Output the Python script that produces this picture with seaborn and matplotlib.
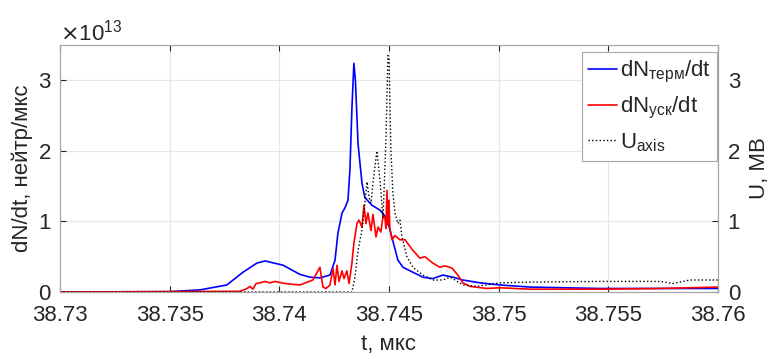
import numpy as np
import pandas as pd
import matplotlib
matplotlib.use('Agg')
import matplotlib.pyplot as plt
import matplotlib.ticker as mticker
import seaborn as sns

# time, мкс and values (dN/dt in units of 1e13, U in MV)
t_term = [38.730, 38.73502, 38.73638, 38.73761, 38.73834, 38.73898, 38.73935, 38.74017,
          38.74094, 38.7414, 38.74185, 38.74231, 38.74254, 38.74267, 38.74286, 38.74299,
          38.74313, 38.74322, 38.74331, 38.7434, 38.74347, 38.74359, 38.74377, 38.7439,
          38.74422, 38.74459, 38.74491, 38.74518, 38.74541, 38.74564, 38.74609, 38.74655,
          38.747, 38.74746, 38.74792, 38.74837, 38.74915, 38.75006, 38.75143, 38.75462, 38.760]
dn_term = [0, 0.005, 0.03, 0.1, 0.28, 0.41, 0.44, 0.38,
           0.25, 0.21, 0.2, 0.24, 0.45, 0.83, 1.12, 1.19,
           1.3, 1.73, 2.6, 3.24, 3.0, 2.1, 1.54, 1.34,
           1.23, 1.16, 1.04, 0.72, 0.45, 0.35, 0.28, 0.21,
           0.19, 0.24, 0.21, 0.17, 0.13, 0.1, 0.07, 0.05, 0.05]

t_acc = [38.730, 38.73821, 38.73853, 38.73866, 38.7388, 38.73894, 38.73912, 38.73935,
         38.73957, 38.7398, 38.74026, 38.74094, 38.74153, 38.74185, 38.74199, 38.74213,
         38.74231, 38.74245, 38.74254, 38.74263, 38.74272, 38.74286, 38.74295, 38.74308,
         38.74318, 38.74331, 38.7434, 38.74354, 38.74363, 38.74377, 38.74386, 38.74395,
         38.74404, 38.74418, 38.74427, 38.74441, 38.7445, 38.74463, 38.74473, 38.74482,
         38.74486, 38.74491, 38.74495, 38.745, 38.74504, 38.74514, 38.74527, 38.7455,
         38.74573, 38.74609, 38.74641, 38.74664, 38.747, 38.74732, 38.74755, 38.74787,
         38.74814, 38.74837, 38.74869, 38.74947, 38.75006, 38.75143, 38.75462, 38.75735, 38.760]
dn_acc = [0, 0.01, 0.05, 0.08, 0.04, 0.12, 0.13, 0.15,
          0.13, 0.15, 0.12, 0.1, 0.17, 0.35, 0.07, 0.05,
          0.1, 0.33, 0.1, 0.38, 0.15, 0.3, 0.19, 0.3,
          0.12, 0.41, 0.69, 0.97, 1.02, 0.92, 1.23, 0.97,
          1.12, 0.87, 1.1, 0.78, 0.92, 0.85, 1.08, 1.04,
          0.9, 1.44, 0.95, 1.3, 0.9, 0.74, 0.8, 0.74,
          0.74, 0.59, 0.48, 0.5, 0.41, 0.35, 0.37, 0.34,
          0.24, 0.13, 0.08, 0.05, 0.06, 0.04, 0.04, 0.05, 0.07]

t_u = [38.730, 38.74331, 38.74345, 38.74359, 38.74377, 38.7439, 38.744, 38.74409,
       38.74418, 38.74427, 38.74445, 38.74459, 38.74473, 38.74486, 38.74495, 38.745,
       38.74509, 38.74518, 38.74527, 38.74541, 38.7455, 38.74559, 38.74582, 38.74609,
       38.74655, 38.747, 38.74746, 38.74778, 38.74801, 38.74837, 38.74901, 38.75006,
       38.75143, 38.75462, 38.75735, 38.75794, 38.75872, 38.760]
u_axis = [0, 0, 0.21, 0.59, 0.88, 1.26, 1.56, 1.34,
          1.26, 1.55, 2.0, 1.58, 1.05, 2.15, 3.35, 3.3,
          2.0, 1.4, 1.12, 0.97, 1.02, 0.78, 0.5, 0.35,
          0.24, 0.17, 0.17, 0.21, 0.17, 0.1, 0.08, 0.13,
          0.14, 0.15, 0.15, 0.12, 0.17, 0.17]

x_ticks = [38.73, 38.735, 38.74, 38.745, 38.75, 38.755, 38.76]
x_ticklabels = ['38.73', '38.735', '38.74', '38.745', '38.75', '38.755', '38.76']

sns.set_style('whitegrid')
plt.rcParams['font.family'] = ['Liberation Sans Narrow', 'Liberation Sans', 'DejaVu Sans']
plt.rcParams['mathtext.fontset'] = 'custom'
plt.rcParams['mathtext.rm'] = 'Liberation Sans Narrow'
plt.rcParams['mathtext.it'] = 'Liberation Sans Narrow'

fs = 16
txt = '#262626'
fig = plt.figure(figsize=(7.72, 3.59), dpi=100)
ax = fig.add_axes([0.0777, 0.1866, 0.8523, 0.6881])

df_term = pd.DataFrame({'t': t_term, 'v': np.array(dn_term) * 1e13})
df_acc = pd.DataFrame({'t': t_acc, 'v': np.array(dn_acc) * 1e13})
df_u = pd.DataFrame({'t': t_u, 'v': u_axis})

sns.lineplot(data=df_term, x='t', y='v', ax=ax, color='#0000ff', lw=1.2, sort=False,
             label=r'dN$_{\mathregular{терм}}$/dt')
sns.lineplot(data=df_acc, x='t', y='v', ax=ax, color='#ff0000', lw=1.2, sort=False,
             label=r'dN$_{\mathregular{уск}}$/dt')

ax2 = ax.twinx()
sns.lineplot(data=df_u, x='t', y='v', ax=ax2, color='black', lw=1.0, ls=':', sort=False,
             label=r'U$_{\mathregular{axis}}$')

ax.set_xlim(38.73, 38.76)
ax.set_ylim(0, 3.5e13)
ax2.set_ylim(0, 3.5)
ax.set_xticks(x_ticks)
ax.set_xticklabels(x_ticklabels)
ax.set_yticks([0, 1e13, 2e13, 3e13])
ax2.set_yticks([0, 1, 2, 3])

fmt = mticker.ScalarFormatter(useMathText=True)
fmt.set_powerlimits((0, 0))
ax.yaxis.set_major_formatter(fmt)
ax.yaxis.get_offset_text().set_fontsize(fs)
ax.yaxis.get_offset_text().set_color(txt)

ax.grid(True, color='#e6e6e6', lw=0.8)
ax2.grid(False)
for a in (ax, ax2):
    for s in a.spines.values():
        s.set_color('#a6a6a6')
        s.set_linewidth(0.8)
ax.tick_params(axis='x', direction='in', length=4, labelsize=fs, colors=txt,
               top=True, bottom=True, pad=9)
ax.tick_params(axis='y', direction='in', length=4, labelsize=fs, colors=txt,
               left=True, right=False, pad=6)
ax2.tick_params(axis='y', direction='in', length=4, labelsize=fs, colors=txt, pad=7)

ax.set_xlabel('t, мкс', fontsize=fs, color=txt, labelpad=6)
ax.set_ylabel('dN/dt, нейтр/мкс', fontsize=fs, color=txt, labelpad=4)
ax2.set_ylabel('U, МВ', fontsize=fs, color=txt, labelpad=6)

h1, l1 = ax.get_legend_handles_labels()
h2, l2 = ax2.get_legend_handles_labels()
ax.get_legend().remove()
ax2.get_legend().remove()
leg = ax2.legend(h1 + h2, l1 + l2, loc='upper right', bbox_to_anchor=(0.999, 0.97),
                 fontsize=fs, frameon=True, fancybox=False, framealpha=1,
                 edgecolor='#a6a6a6', handlelength=1.3, handletextpad=0.1,
                 borderpad=0.3, labelspacing=0.45, borderaxespad=0)
leg.get_frame().set_linewidth(0.8)
for text in leg.get_texts():
    text.set_color(txt)

fig.savefig('out.png', dpi=100)
